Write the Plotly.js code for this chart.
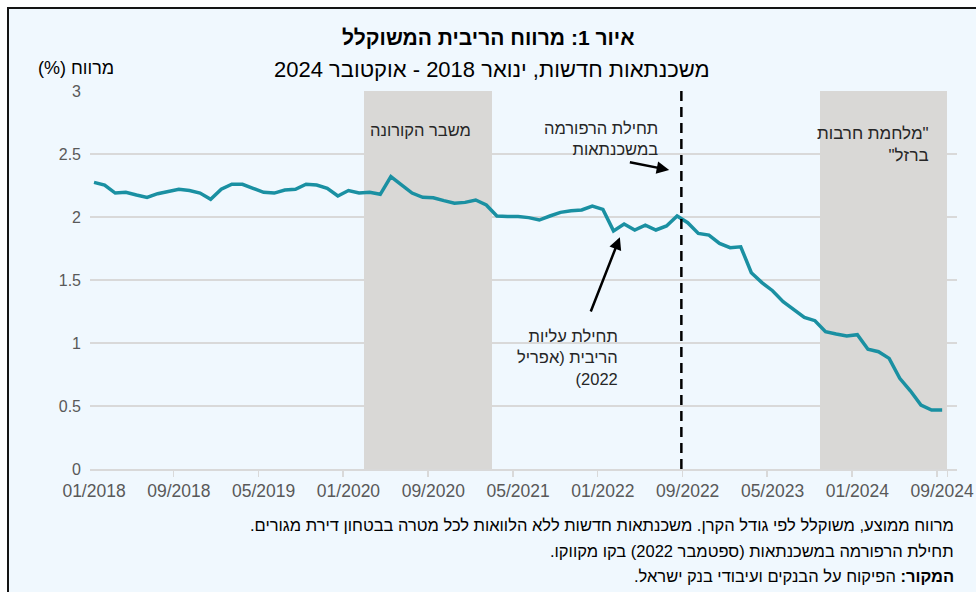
<!DOCTYPE html>
<html>
<head>
<meta charset="utf-8">
<script src="https://cdn.plot.ly/plotly-3.0.1.min.js"></script>
<style>
  html, body { margin:0; padding:0; background:#ffffff; overflow:hidden; width:976px; height:592px; }
  #frame { position:absolute; left:7px; top:7px; width:1000px; height:620px; border:2px solid #141414; background:#F0F8FE; }
  #chart { position:absolute; left:0; top:0; width:976px; height:592px; }
</style>
</head>
<body>
<div id="frame"></div>
<div id="chart"></div>
<script>
// ---- data ----
const RLM = "\u200F";
const months = [];
for (let y = 2018; y <= 2024; y++) {
  for (let m = 1; m <= 12; m++) {
    if (y === 2024 && m > 9) break;
    months.push((m < 10 ? "0" + m : "" + m) + "/" + y);
  }
}
const spread = [
  2.275, 2.254, 2.19, 2.196, 2.175, 2.156, 2.185, 2.20, 2.22, 2.21, 2.19, 2.14, 2.22, 2.26, 2.26,
  2.228, 2.196, 2.19, 2.214, 2.22, 2.26, 2.254, 2.228, 2.167, 2.21, 2.19, 2.196, 2.18, 2.32, 2.255,
  2.19, 2.156, 2.153, 2.13, 2.11, 2.116, 2.135, 2.095, 2.008, 2.003, 2.003, 1.995, 1.976, 2.008, 2.037,
  2.05, 2.056, 2.087, 2.06, 1.89, 1.944, 1.897, 1.936, 1.897, 1.929, 2.008, 1.955, 1.87, 1.856, 1.79,
  1.756, 1.764, 1.558, 1.479, 1.415, 1.328, 1.267, 1.204, 1.177, 1.09, 1.071, 1.056, 1.066, 0.95, 0.931,
  0.878, 0.72, 0.621, 0.508, 0.468, 0.468
];
const tickLabels = ["01/2018","09/2018","05/2019","01/2020","09/2020","05/2021","01/2022","09/2022","05/2023","01/2024","09/2024"];
const covidMonths = ["03/2020","04/2020","05/2020","06/2020","07/2020","08/2020","09/2020","10/2020","11/2020","12/2020","01/2021","02/2021"];
const warMonths = ["10/2023","11/2023","12/2023","01/2024","02/2024","03/2024","04/2024","05/2024","06/2024","07/2024","08/2024","09/2024"];
const shadeTop = 3;
const reformMonthPos = 55.4; // between 08/2022 and 09/2022 on the category axis

const FONT = "'Liberation Sans', Arial, sans-serif";
const TXT = "#262626";

const traces = [
  { type:"bar", x: covidMonths, y: covidMonths.map(() => shadeTop), marker:{color:"#D9D8D6", line:{width:0}}, hoverinfo:"skip", showlegend:false },
  { type:"bar", x: warMonths, y: warMonths.map(() => shadeTop), marker:{color:"#D9D8D6", line:{width:0}}, hoverinfo:"skip", showlegend:false },
  { type:"scatter", mode:"lines", x: months, y: spread, line:{color:"#1A90A2", width:3.5}, showlegend:false }
];

const px = (v) => (v - 90) / 867;      // helper for paper x
const py = (v) => (469 - v) / 378;     // helper for paper y

const layout = {
  width:976, height:592,
  margin:{l:90, r:19, t:91, b:123},
  paper_bgcolor:"rgba(0,0,0,0)", plot_bgcolor:"rgba(0,0,0,0)",
  bargap:0, barmode:"overlay",
  showlegend:false,
  font:{family:FONT, color:TXT},
  xaxis:{
    type:"category", categoryorder:"array", categoryarray: months,
    range:[-0.38, 81.4],
    tickvals: tickLabels, ticktext: tickLabels,
    tickangle:0,
    tickson:"boundaries",
    ticks:"outside", ticklen:6, tickcolor:"#D9D9D9", tickwidth:1.5,
    showline:true, linecolor:"#D9D9D9", linewidth:1.5,
    showgrid:false, zeroline:false,
    tickfont:{family:FONT, size:17.5, color:"#595959"},
    ticklabelstandoff:5
  },
  yaxis:{
    range:[0,3], dtick:0.5, tick0:0,
    showgrid:true, gridcolor:"#D9D9D9", gridwidth:1.3,
    zeroline:false, showline:false, ticks:"",
    tickfont:{family:FONT, size:16, color:"#595959"},
    ticklabelstandoff:8
  },
  shapes:[
    { type:"line", xref:"x", yref:"y", x0:reformMonthPos, x1:reformMonthPos, y0:0, y1:3,
      line:{color:"#000000", width:2.5, dash:"10px,6px"}, layer:"above" }
  ],
  annotations:[
    { xref:"paper", yref:"paper", x:px(488), y:py(38), xanchor:"center", yanchor:"middle", showarrow:false,
      text: RLM + "<b>איור 1: מרווח הריבית המשוקלל</b>" + RLM, font:{size:21, color:"#000"} },
    { xref:"paper", yref:"paper", x:px(492), y:py(70), xanchor:"center", yanchor:"middle", showarrow:false,
      text: RLM + "משכנתאות חדשות, ינואר 2018 - אוקטובר 2024" + RLM, font:{size:22, color:"#000"} },
    { xref:"paper", yref:"paper", x:px(116), y:py(68), xanchor:"right", yanchor:"middle", showarrow:false,
      text: RLM + "מרווח (%)" + RLM, font:{size:18, color:"#000"} },
    { xref:"x", yref:"y", x:30.75, y:2.69, xanchor:"center", yanchor:"middle", showarrow:false,
      text: RLM + "משבר הקורונה" + RLM, font:{size:16.5, color:TXT} },
    { xref:"x", yref:"y", x:78.9, y:2.575, xanchor:"right", yanchor:"middle", align:"right", showarrow:false,
      text: RLM + "\"מלחמת חרבות" + RLM + "<br>" + RLM + "ברזל\"" + RLM, font:{size:17, color:TXT} },
    { xref:"x", yref:"y", x:53.4, y:2.627, xanchor:"right", yanchor:"middle", align:"right", showarrow:false,
      text: RLM + "תחילת הרפורמה" + RLM + "<br>" + RLM + "במשכנתאות" + RLM, font:{size:16.5, color:TXT} },
    { xref:"x", yref:"y", x:49.6, y:0.885, xanchor:"right", yanchor:"middle", align:"right", showarrow:false,
      text: RLM + "תחילת עליות" + RLM + "<br>" + RLM + "הריבית (אפריל" + RLM + "<br>(2022", font:{size:16.5, color:TXT} },
    { xref:"x", yref:"y", axref:"x", ayref:"y", x:54.25, y:2.373, ax:50.4, ay:2.437, text:"", showarrow:true,
      arrowhead:2, arrowsize:1, arrowwidth:2.5, arrowcolor:"#000", standoff:0 },
    { xref:"x", yref:"y", axref:"x", ayref:"y", x:49.6, y:1.84, ax:46.8, ay:1.238, text:"", showarrow:true,
      arrowhead:2, arrowsize:1, arrowwidth:2.5, arrowcolor:"#000", standoff:0 },
    { xref:"paper", yref:"paper", x:px(956), y:py(525), xanchor:"right", yanchor:"middle", showarrow:false,
      text: RLM + "מרווח ממוצע, משוקלל לפי גודל הקרן. משכנתאות חדשות ללא הלוואות לכל מטרה בבטחון דירת מגורים." + RLM, font:{size:16.5, color:"#000"} },
    { xref:"paper", yref:"paper", x:px(956), y:py(551), xanchor:"right", yanchor:"middle", showarrow:false,
      text: RLM + "תחילת הרפורמה במשכנתאות (ספטמבר 2022) בקו מקווקו." + RLM, font:{size:16.5, color:"#000"} },
    { xref:"paper", yref:"paper", x:px(956), y:py(576), xanchor:"right", yanchor:"middle", showarrow:false,
      text: RLM + "<b>המקור:</b> הפיקוח על הבנקים ועיבודי בנק ישראל." + RLM, font:{size:16.5, color:"#000"} }
  ]
};

Plotly.newPlot("chart", traces, layout, {displayModeBar:false, staticPlot:true});
</script>
</body>
</html>
